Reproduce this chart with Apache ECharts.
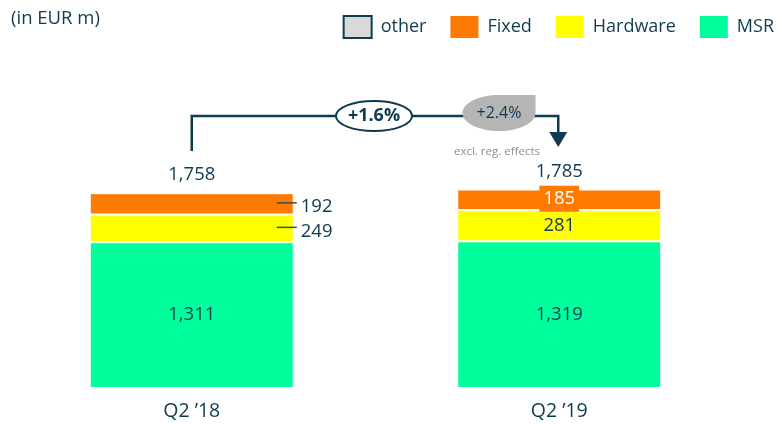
<!DOCTYPE html>
<html>
<head>
<meta charset="utf-8">
<script src="https://cdn.jsdelivr.net/npm/echarts@6/dist/echarts.min.js"></script>
<style>
html,body{margin:0;padding:0;background:#fff;}
#c{width:782px;height:424px;}
</style>
</head>
<body>
<div id="c"></div>
<script>
// ---- data ----
const categories = ['Q2 \u201918', 'Q2 \u201919'];
const msr = [1311, 1319];
const hardware = [249, 281];
const fixed = [192, 185];
const other = [6, 0];
const totals = [1758, 1785];
const growthLabel = '+1.6%';
const growthExclLabel = '+2.4%';
const growthExclNote = 'excl. reg. effects';
const unitLabel = '(in EUR m)';

// ---- style ----
const FONT = 'Open Sans';
const DARK = '#0e3b4f';
const C_OTHER = '#d9d9d9';
const C_FIXED = '#ff7a00';
const C_HW = '#ffff00';
const C_MSR = '#00ff9c';
const fmt = v => v.toLocaleString('en-US');
const BAR_W = 204;

const chart = echarts.init(document.getElementById('c'), null, {renderer: 'canvas'});

const baseLabel = {show: true, fontFamily: FONT, fontSize: 18.5, color: DARK, formatter: p => fmt(p.value)};

function fixedData() {
  return fixed.map((v, i) => {
    if (i === 0) {
      return {value: v, label: {position: 'right', distance: 7, offset: [0, 3]}};
    }
    return {value: v, label: {position: 'inside', offset: [0, -1], color: '#ffffff', backgroundColor: C_FIXED, padding: [4, 4, 3, 4]}};
  });
}
function hwData() {
  return hardware.map((v, i) => {
    if (i === 0) {
      return {value: v, label: {position: 'right', distance: 7, offset: [0, 3]}};
    }
    return {value: v, label: {position: 'inside'}};
  });
}

const itemBorder = {borderColor: '#ffffff', borderWidth: 1};

chart.setOption({
  animation: false,
  textStyle: {fontFamily: FONT},
  title: {
    text: unitLabel, left: 6, top: 4,
    textStyle: {fontFamily: FONT, fontSize: 18.5, fontWeight: 'normal', color: DARK}
  },
  legend: {
    right: 3, top: 10,
    itemWidth: 28, itemHeight: 22, itemGap: 24,
    icon: 'rect',
    textStyle: {fontFamily: FONT, fontSize: 18, color: DARK, padding: [0, 0, 0, 4]},
    itemStyle: {borderWidth: 0},
    data: [
      {name: 'other', itemStyle: {borderColor: DARK, borderWidth: 2}},
      'Fixed', 'Hardware', 'MSR'
    ]
  },
  grid: {left: 8, right: 39, top: 110, bottom: 36},
  xAxis: {
    type: 'category', data: categories,
    axisLine: {show: false}, axisTick: {show: false},
    axisLabel: {fontFamily: FONT, fontSize: 19.5, color: DARK, margin: 13}
  },
  yAxis: {type: 'value', min: 0, max: 2500, show: false, splitLine: {show: false}},
  series: [
    {name: 'MSR', type: 'bar', stack: 't', barWidth: BAR_W, data: msr,
     itemStyle: Object.assign({color: C_MSR}, itemBorder),
     label: Object.assign({}, baseLabel, {position: 'inside'})},
    {name: 'Hardware', type: 'bar', stack: 't', barWidth: BAR_W, data: hwData(),
     itemStyle: Object.assign({color: C_HW}, itemBorder),
     label: Object.assign({}, baseLabel)},
    {name: 'Fixed', type: 'bar', stack: 't', barWidth: BAR_W, data: fixedData(),
     itemStyle: Object.assign({color: C_FIXED}, itemBorder),
     label: Object.assign({}, baseLabel)},
    {name: 'other', type: 'bar', stack: 't', barWidth: BAR_W, data: other,
     itemStyle: Object.assign({color: C_OTHER}, itemBorder),
     label: Object.assign({}, baseLabel, {position: 'top', distance: 8,
       formatter: p => fmt(totals[p.dataIndex])})}
  ]
});

// ---- annotations positioned from the chart's own scales ----
function px(ci, v) { return chart.convertToPixel({gridIndex: 0}, [ci, v]); }
const p0 = px(0, totals[0]);
const p1 = px(1, totals[1]);
const x0 = p0[0], x1 = p1[0] - 1;
const lineY = 116;
const midX = (x0 + x1) / 2 - 1;
const dropCx = 499, dropCy = 113, dropRx = 36.5, dropRy = 18;

const half = BAR_W / 2;
const leaderY1 = px(0, msr[0] + hardware[0] + fixed[0] / 2)[1] - 1;
const leaderY2 = px(0, msr[0] + hardware[0] / 2)[1] - 1;
const barRight = x0 + half;

// ellipse with a square top-right corner
const dropPts = [[dropCx + dropRx, dropCy - dropRy]];
for (let k = 0; k <= 48; k++) {
  const a = (k / 48) * 1.5 * Math.PI;
  dropPts.push([dropCx + dropRx * Math.cos(a), dropCy + dropRy * Math.sin(a)]);
}

chart.setOption({
  graphic: [
    {type: 'polyline', z: 100, shape: {points: [[x0, 151], [x0, lineY], [x1, lineY], [x1, 133]]},
     style: {stroke: DARK, lineWidth: 2.5, fill: null}},
    {type: 'polygon', z: 100, shape: {points: [[x1 - 9, 132], [x1 + 9, 132], [x1, 147]]},
     style: {fill: DARK}},
    {type: 'ellipse', z: 101, shape: {cx: midX, cy: lineY, rx: 38, ry: 15},
     style: {fill: '#ffffff', stroke: DARK, lineWidth: 2}},
    {type: 'text', z: 102, x: midX, y: lineY,
     style: {text: growthLabel, fill: DARK, font: 'bold 18px "Open Sans"', align: 'center', verticalAlign: 'middle'}},
    {type: 'polygon', z: 101, shape: {points: dropPts}, style: {fill: '#b5b5b5'}},
    {type: 'text', z: 102, x: dropCx, y: dropCy,
     style: {text: growthExclLabel, fill: DARK, font: '16px "Open Sans"', align: 'center', verticalAlign: 'middle'}},
    {type: 'text', z: 102, x: dropCx - 2, y: 152,
     style: {text: growthExclNote, fill: '#8e8e8e', font: '11.5px "Open Sans"', align: 'center', verticalAlign: 'middle'}},
    {type: 'line', z: 100, shape: {x1: barRight - 17, y1: leaderY1, x2: barRight + 3, y2: leaderY1},
     style: {stroke: '#2f4f4f', lineWidth: 1.5}},
    {type: 'line', z: 100, shape: {x1: barRight - 17, y1: leaderY2, x2: barRight + 3, y2: leaderY2},
     style: {stroke: '#2f4f4f', lineWidth: 1.5}}
  ]
});
</script>
</body>
</html>
